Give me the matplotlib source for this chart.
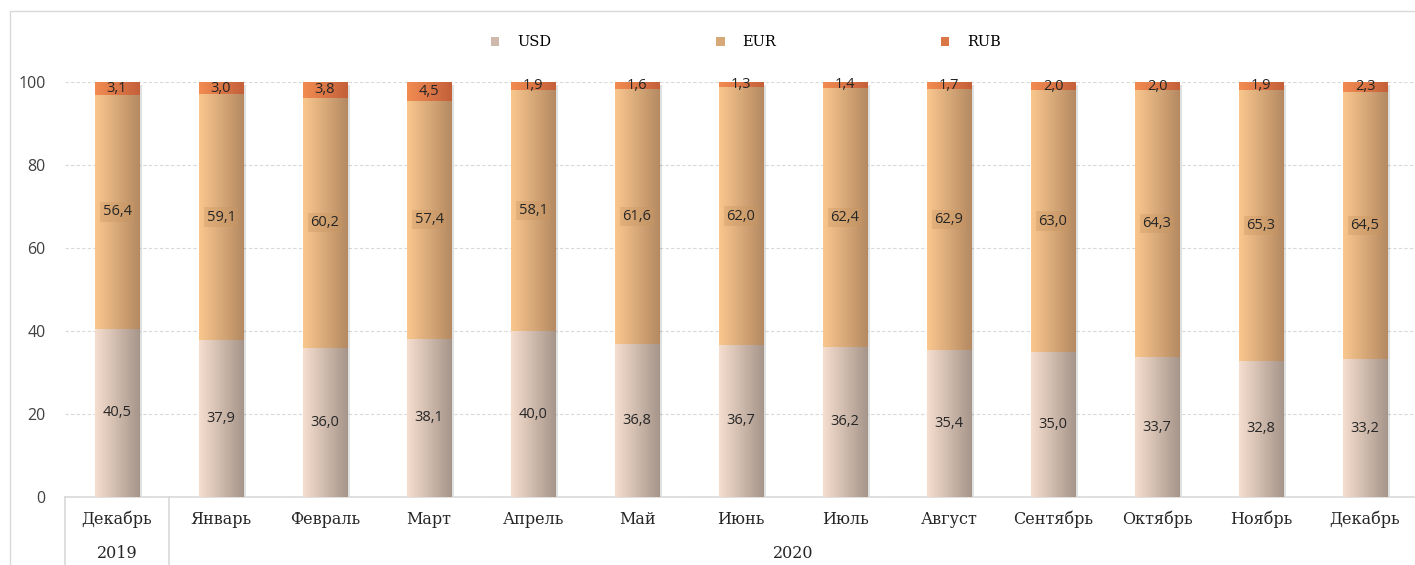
import numpy as np
import matplotlib
matplotlib.use("Agg")
from matplotlib import pyplot as plt
from matplotlib.colors import LinearSegmentedColormap
from matplotlib.patches import Rectangle
import matplotlib.patheffects as pe

months = ["Декабрь", "Январь", "Февраль", "Март", "Апрель", "Май", "Июнь",
          "Июль", "Август", "Сентябрь", "Октябрь", "Ноябрь", "Декабрь"]
years = ["2019", "2020"]
usd = [40.5, 37.9, 36.0, 38.1, 40.0, 36.8, 36.7, 36.2, 35.4, 35.0, 33.7, 32.8, 33.2]
eur = [56.4, 59.1, 60.2, 57.4, 58.1, 61.6, 62.0, 62.4, 62.9, 63.0, 64.3, 65.3, 64.5]
rub = [3.1, 3.0, 3.8, 4.5, 1.9, 1.6, 1.3, 1.4, 1.7, 2.0, 2.0, 1.9, 2.3]

# left/right colours of the horizontal gradient on each segment
grads = {
    "USD": ("#f6dece", "#a6958a"),
    "EUR": ("#f9c68e", "#b58a62"),
    "RUB": ("#f28c52", "#c4603a"),
}

LABEL_FONT = ["Open Sans", "DejaVu Sans"]
SERIF = ["DejaVu Serif"]

fig = plt.figure(figsize=(14.15, 5.65), dpi=100)
ax = fig.add_axes([65 / 1415, 68 / 565, 1352 / 1415, 415 / 565])

x = np.arange(len(months))
width = 0.43


def fill_gradient(bars, name):
    c0, c1 = grads[name]
    cmap = LinearSegmentedColormap.from_list(name, [c0, c1])
    grad = np.linspace(0, 1, 64).reshape(1, -1)
    for b in bars:
        x0, y0 = b.get_x(), b.get_y()
        im = ax.imshow(grad, extent=[x0, x0 + b.get_width(), y0, y0 + b.get_height()],
                       aspect="auto", cmap=cmap, zorder=3, interpolation="bilinear")
        im.set_clip_path(b)


shadow = [pe.SimplePatchShadow(offset=(2, -2), shadow_rgbFace="#000000", alpha=0.12), pe.Normal()]

bottoms = np.zeros(len(months))
containers = {}
for name, vals in (("USD", usd), ("EUR", eur), ("RUB", rub)):
    c0, c1 = grads[name]
    bars = ax.bar(x, vals, width, bottom=bottoms, color=c0, label=name, zorder=2,
                  linewidth=0)
    for b in bars:
        b.set_path_effects(shadow)
    fill_gradient(bars, name)
    containers[name] = (bars, np.array(vals), bottoms.copy())
    bottoms = bottoms + np.array(vals)

# data labels
for name, (bars, vals, bots) in containers.items():
    for xi, v, bt in zip(x, vals, bots):
        txt = f"{v:.1f}".replace(".", ",")
        kw = {}
        if name == "EUR":
            kw["bbox"] = dict(boxstyle="square,pad=0.15", fc="#c9955f", ec="none", alpha=0.35)
        ax.text(xi, bt + v / 2, txt, ha="center", va="center", fontsize=10.5,
                color="#262626", family=LABEL_FONT, zorder=5, **kw)

ax.set_xlim(-0.5, len(months) - 0.5)
ax.set_ylim(0, 100)
ax.set_yticks([0, 20, 40, 60, 80, 100])
ax.yaxis.grid(True, color="#d9d9d9", linestyle=(0, (3, 2)), linewidth=0.8, zorder=0)
ax.set_axisbelow(True)
for s in ("left", "right", "top"):
    ax.spines[s].set_visible(False)
ax.spines["bottom"].set_color("#d9d9d9")
ax.spines["bottom"].set_linewidth(1.2)
ax.tick_params(axis="y", length=0, pad=14, labelsize=11.5, labelcolor="#404040")
ax.tick_params(axis="x", length=0, pad=10, labelsize=11.5, labelcolor="#262626")
for lab in ax.get_yticklabels():
    lab.set_family(LABEL_FONT)
ax.set_xticks(x)
ax.set_xticklabels(months, family=SERIF)

# year row and separators below the axis
trans = ax.get_xaxis_transform()
for sx in (-0.5, 0.5):
    ax.plot([sx, sx], [0, -0.17], transform=trans, color="#d9d9d9", lw=1.2, clip_on=False)
ax.text(0, -0.135, years[0], transform=trans, ha="center", va="center",
        fontsize=11.5, family=SERIF, color="#262626")
ax.text((1 + len(months) - 1) / 2, -0.135, years[1], transform=trans, ha="center",
        va="center", fontsize=11.5, family=SERIF, color="#262626")

# legend
handles = [Rectangle((0, 0), 1, 1, fc=grads[n][0], ec="none") for n in ("USD", "EUR", "RUB")]
for h, n in zip(handles, ("USD", "EUR", "RUB")):
    h.set_facecolor(LinearSegmentedColormap.from_list(n, grads[n])(0.5))
fig.legend(handles, ["USD", "EUR", "RUB"], loc="center", bbox_to_anchor=(0.527, 0.925),
           ncol=3, frameon=False, handlelength=0.6, handleheight=0.6, handletextpad=1.2,
           columnspacing=11.3, prop={"family": SERIF, "size": 10.5})

# outer frame of the chart area
fig.patches.append(Rectangle((10 / 1415, -0.1), 1.2, 1 - 11 / 565 + 0.1,
                             transform=fig.transFigure, fill=False, ec="#d9d9d9", lw=1))

fig.savefig("out.png", dpi=100)
